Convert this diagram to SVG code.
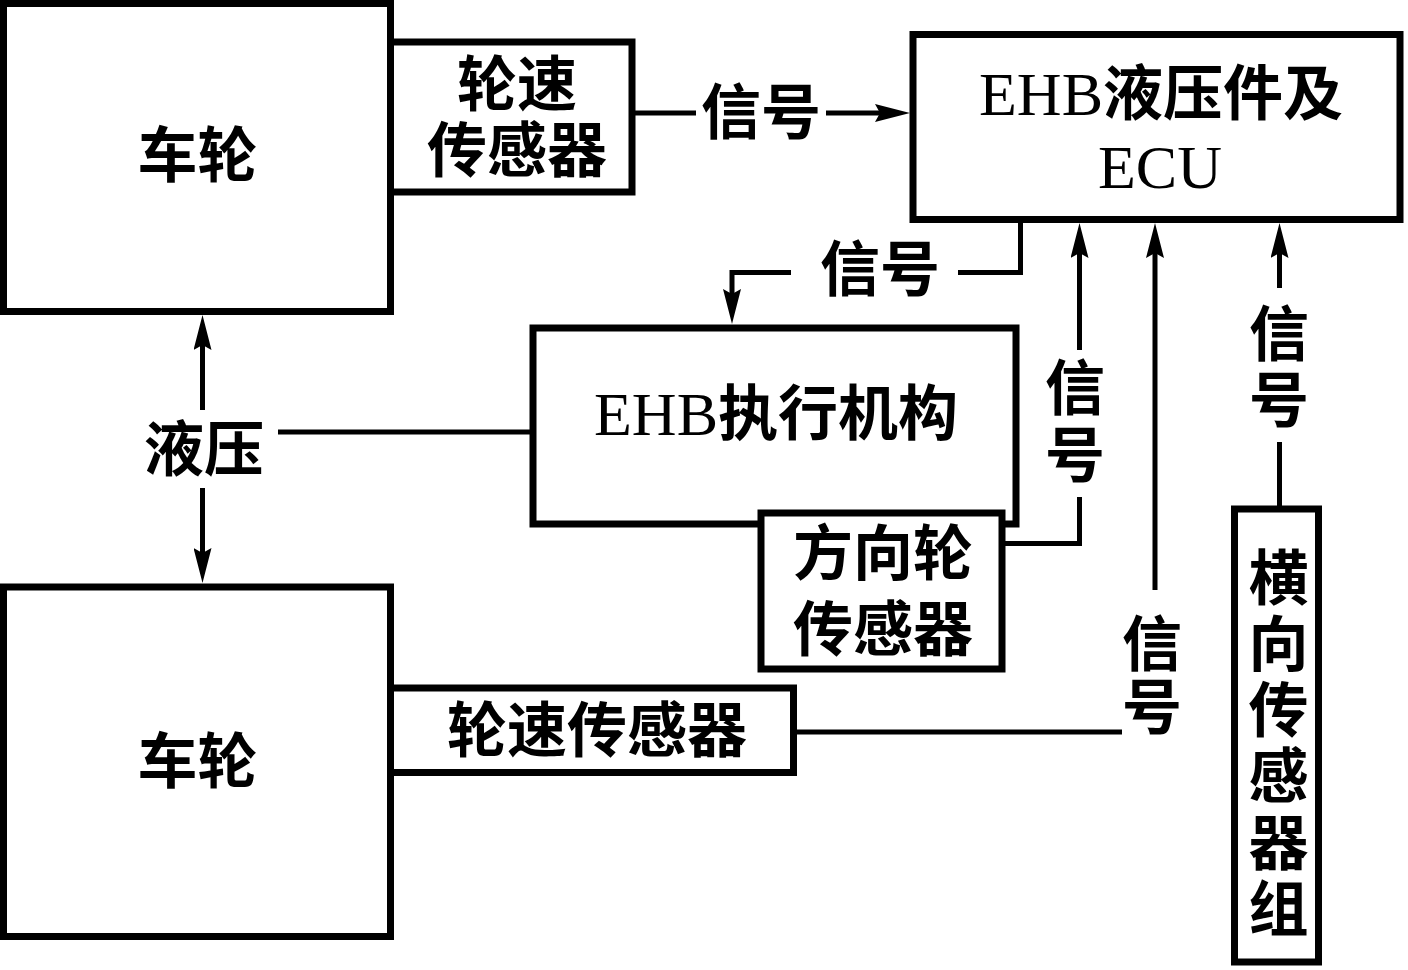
<svg xmlns="http://www.w3.org/2000/svg" width="1408" height="970" viewBox="0 0 1408 970">
<style>
.box{fill:#fff;stroke:#000;stroke-width:7}
.ln{fill:none;stroke:#000;stroke-width:5}
.cj{font-family:'Noto Sans CJK SC',sans-serif;font-weight:700;font-size:60px;fill:#000;text-anchor:middle}
.two{font-family:'Liberation Sans','Noto Sans CJK SC',sans-serif}
.vt{font-family:'Noto Sans CJK SC',sans-serif;font-weight:700;font-size:60px;fill:#000;writing-mode:vertical-rl;text-anchor:start}
.lat{font-family:'Liberation Serif',serif;font-weight:400;font-size:62px}
</style>
<defs>
<marker id="ah" viewBox="0 0 35 18" refX="5" refY="9" markerWidth="35" markerHeight="18" markerUnits="userSpaceOnUse" orient="auto">
<path d="M0,0 L35,9 L0,18 L5,9 z" fill="#000"/>
</marker>
</defs>
<rect width="1408" height="970" fill="#fff"/>
<g id="connectors">
<path class="ln" d="M632,113 H696"/>
<path class="ln" d="M826,113 H880" marker-end="url(#ah)"/>
<path class="ln" d="M1020.5,219 V272.5 H958"/>
<path class="ln" d="M791,272.5 H732 V294" marker-end="url(#ah)"/>
<path class="ln" d="M1002,543.5 H1079.5 V497"/>
<path class="ln" d="M1079.5,350 V253" marker-end="url(#ah)"/>
<path class="ln" d="M793,732 H1122"/>
<path class="ln" d="M1155,590 V253" marker-end="url(#ah)"/>
<path class="ln" d="M1279.5,509 V442"/>
<path class="ln" d="M1279.5,288 V253" marker-end="url(#ah)"/>
<path class="ln" d="M202.5,410 V345" marker-end="url(#ah)"/>
<path class="ln" d="M202.5,488 V553" marker-end="url(#ah)"/>
<path class="ln" d="M278,432 H533"/>
<text class="cj" x="761" y="134">信号</text>
<text class="cj" x="880" y="291">信号</text>
<text class="vt" x="1075" y="357" letter-spacing="7">信号</text>
<text class="vt" x="1279" y="303" letter-spacing="6">信号</text>
<text class="vt" x="1152" y="613" letter-spacing="3">信号</text>
<text class="cj" x="204" y="471">液压</text>
</g>
<g id="wheel-top">
<rect class="box" x="3.5" y="3.5" width="387" height="308"/>
<text class="cj" x="197.5" y="177">车轮</text>
</g>
<g id="speed-sensor-top">
<rect class="box" x="390.5" y="42" width="241.5" height="150"/>
<text class="cj two" x="517" y="105.5">轮速<tspan x="517" dy="66.5">传感器</tspan></text>
</g>
<g id="ecu">
<rect class="box" x="913" y="34.5" width="487" height="185"/>
<text class="cj" x="1161" y="115"><tspan class="lat">EHB</tspan>液压件及</text>
<text class="cj" x="1160" y="188"><tspan class="lat">ECU</tspan></text>
</g>
<g id="actuator">
<rect class="box" x="533" y="328" width="483" height="196"/>
<text class="cj" x="776" y="435"><tspan class="lat">EHB</tspan>执行机构</text>
</g>
<g id="steering-sensor">
<rect class="box" x="761" y="513" width="241" height="156"/>
<text class="cj two" x="883" y="575">方向轮<tspan x="883" dy="76">传感器</tspan></text>
</g>
<g id="lateral-sensors">
<rect class="box" x="1234.5" y="509" width="84" height="453"/>
<text class="vt" x="1278.5" y="547" letter-spacing="6.2">横向传感器组</text>
</g>
<g id="wheel-bottom">
<rect class="box" x="3.5" y="587" width="387" height="349.5"/>
<text class="cj" x="197.5" y="783">车轮</text>
</g>
<g id="speed-sensor-bottom">
<rect class="box" x="390.5" y="688" width="403" height="84.5"/>
<text class="cj" x="597" y="751.5">轮速传感器</text>
</g>
</svg>
